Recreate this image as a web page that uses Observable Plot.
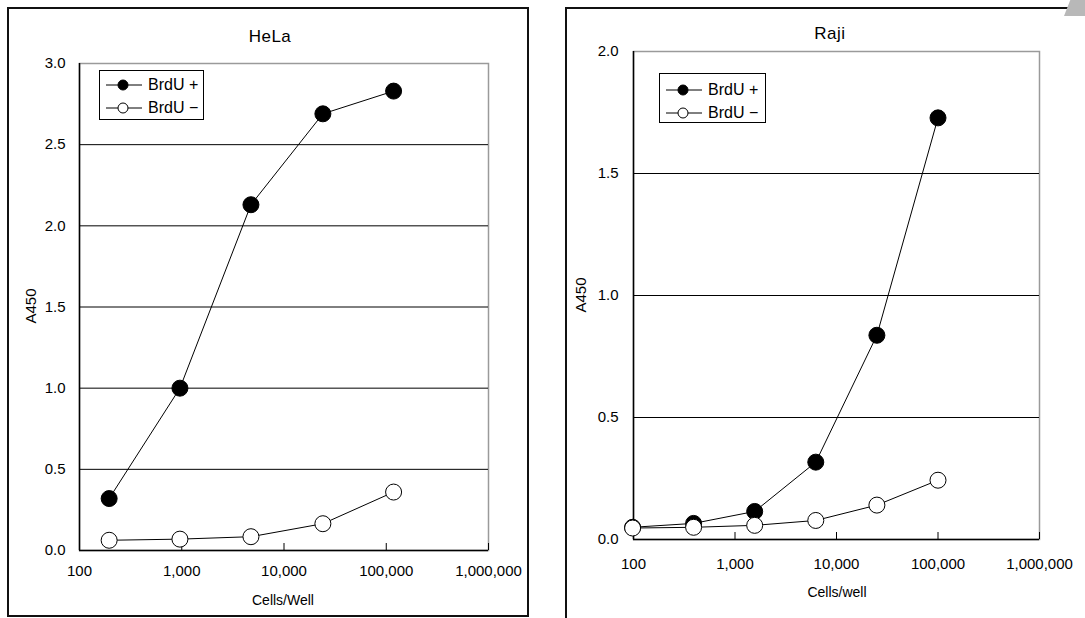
<!DOCTYPE html>
<html><head><meta charset="utf-8">
<script src="https://cdn.jsdelivr.net/npm/d3@7"></script>
<script src="https://cdn.jsdelivr.net/npm/@observablehq/plot@0.6"></script>
<style>
body{margin:0;background:#fff;font-family:"Liberation Sans",Arial,sans-serif;}
#root{position:relative;width:1085px;height:618px;overflow:hidden;background:#fff;}
.frame{position:absolute;border:2px solid #111;box-sizing:border-box;}
.txt{position:absolute;color:#000;white-space:nowrap;line-height:1;}
.legend{position:absolute;border:1px solid #000;background:#fff;box-sizing:border-box;}
.legend .row{position:absolute;left:0;height:18px;display:flex;align-items:center;}
.legend svg{display:block;}
.pl{position:absolute;top:0;}
.corner{position:absolute;left:1064px;top:0;width:21px;height:16px;background:#b8b8b8;clip-path:polygon(30% 0,100% 0,100% 100%,0 100%);}
</style></head><body><div id="root"></div>
<script>
// ---- data ----
const seriesNames = ["BrdU +", "BrdU −"];
const xTicks = [100, 1000, 10000, 100000, 1000000];

const helaTitle = "HeLa";
const helaXLabel = "Cells/Well";
const helaCells = [195, 960, 4750, 24000, 118000];
const helaBrdUPlus = [0.32, 1.00, 2.13, 2.69, 2.83];
const helaBrdUMinus = [0.063, 0.07, 0.085, 0.165, 0.36];
const helaYTicks = [0, 0.5, 1.0, 1.5, 2.0, 2.5, 3.0];

const rajiTitle = "Raji";
const rajiXLabel = "Cells/well";
const rajiCells = [98, 391, 1563, 6250, 25000, 100000];
const rajiBrdUPlus = [0.05, 0.066, 0.115, 0.317, 0.837, 1.728];
const rajiBrdUMinus = [0.047, 0.05, 0.058, 0.078, 0.141, 0.243];
const rajiYTicks = [0, 0.5, 1.0, 1.5, 2.0];

const yLabel = "A450";

const root = document.getElementById("root");

function add(tag, cls, style, text) {
  const el = document.createElement(tag);
  if (cls) el.className = cls;
  Object.assign(el.style, style);
  if (text != null) el.textContent = text;
  root.appendChild(el);
  return el;
}

function panel(cfg) {
  const plus = cfg.cells.map((c, i) => ({cells: c, a: cfg.plus[i]}));
  const minus = cfg.cells.map((c, i) => ({cells: c, a: cfg.minus[i]}));
  const yMax = cfg.yTicks[cfg.yTicks.length - 1];
  const p = Plot.plot({
    width: cfg.width, height: cfg.height,
    marginLeft: cfg.ml, marginRight: cfg.mr, marginTop: cfg.mt, marginBottom: cfg.mb,
    style: {background: "none", fontFamily: "Liberation Sans, Arial, sans-serif", fontSize: "15px", color: "#000", overflow: "visible"},
    x: {type: "log", domain: [100, 1e6]},
    y: {domain: [0, yMax]},
    marks: [
      Plot.frame({stroke: "#9a9a9a", strokeWidth: 1.5}),
      Plot.ruleY(cfg.yTicks.filter(t => t > 0 && t < yMax), {stroke: "#000", strokeWidth: 1}),
      Plot.ruleY([0], {stroke: "#000", strokeWidth: 1.5}),
      Plot.ruleX([100], {stroke: "#000", strokeWidth: 1.5}),
      Plot.axisX({ticks: xTicks, tickSize: 7, dy: -7, tickFormat: () => "", label: null, stroke: "#000"}),
      Plot.axisX({ticks: xTicks, tickSize: 0, tickPadding: cfg.xPad, tickFormat: d3.format(","), label: null}),
      Plot.axisY({ticks: cfg.yTicks, tickSize: 0, tickPadding: cfg.yPad, tickFormat: d3.format(".1f"), label: null}),
      Plot.line(plus, {x: "cells", y: "a", stroke: "#000", strokeWidth: 1}),
      Plot.dot(plus, {x: "cells", y: "a", r: 8, fill: "#000", stroke: "#000", strokeWidth: 1}),
      Plot.line(minus, {x: "cells", y: "a", stroke: "#000", strokeWidth: 1}),
      Plot.dot(minus, {x: "cells", y: "a", r: 8, fill: "#fff", stroke: "#000", strokeWidth: 1})
    ]
  });
  p.classList.add("pl");
  p.style.left = cfg.left + "px";
  p.style.maxWidth = "none";
  return p;
}

function legend(x, y, w, h, rows) {
  const box = add("div", "legend", {left: x + "px", top: y + "px", width: w + "px", height: h + "px"});
  seriesNames.forEach((name, i) => {
    const row = document.createElement("div");
    row.className = "row";
    row.style.top = (rows[i] - 9) + "px";
    const ns = "http://www.w3.org/2000/svg";
    const svg = document.createElementNS(ns, "svg");
    svg.setAttribute("width", 46); svg.setAttribute("height", 18);
    const ln = document.createElementNS(ns, "line");
    ln.setAttribute("x1", 6); ln.setAttribute("x2", 42); ln.setAttribute("y1", 9); ln.setAttribute("y2", 9);
    ln.setAttribute("stroke", "#000"); ln.setAttribute("stroke-width", 1);
    const c = document.createElementNS(ns, "circle");
    c.setAttribute("cx", 23); c.setAttribute("cy", 9); c.setAttribute("r", 5);
    c.setAttribute("fill", i === 0 ? "#000" : "#fff"); c.setAttribute("stroke", "#000");
    svg.appendChild(ln); svg.appendChild(c);
    const t = document.createElement("span");
    t.textContent = name;
    t.style.marginLeft = "2px";
    t.style.fontSize = "16px";
    row.appendChild(svg); row.appendChild(t);
    box.appendChild(row);
  });
}

// frames
add("div", "frame", {left: "7px", top: "7px", width: "522px", height: "610px"});
add("div", "frame", {left: "565px", top: "7px", width: "540px", height: "630px"});
add("div", "corner", {});

// left panel
root.appendChild(panel({left: 0, width: 545, height: 618, ml: 79, mr: 57, mt: 63, mb: 68, xPad: 15, yPad: 14,
  cells: helaCells, plus: helaBrdUPlus, minus: helaBrdUMinus, yTicks: helaYTicks}));
// right panel
root.appendChild(panel({left: 545, width: 540, height: 618, ml: 88, mr: 46, mt: 51, mb: 79, xPad: 19, yPad: 15,
  cells: rajiCells, plus: rajiBrdUPlus, minus: rajiBrdUMinus, yTicks: rajiYTicks}));

// titles and axis labels
add("div", "txt", {left: "170px", width: "200px", textAlign: "center", top: "28px", fontSize: "17px", letterSpacing: "0.5px"}, helaTitle);
add("div", "txt", {left: "730px", width: "200px", textAlign: "center", top: "25px", fontSize: "17px", letterSpacing: "0.5px"}, rajiTitle);
add("div", "txt", {left: "183px", width: "200px", textAlign: "center", top: "593px", fontSize: "14px"}, helaXLabel);
add("div", "txt", {left: "737px", width: "200px", textAlign: "center", top: "585px", fontSize: "14px"}, rajiXLabel);
add("div", "txt", {left: "30px", top: "306px", fontSize: "15px", transform: "translate(-50%,-50%) rotate(-90deg)"}, yLabel);
add("div", "txt", {left: "580px", top: "295px", fontSize: "15px", transform: "translate(-50%,-50%) rotate(-90deg)"}, yLabel);

// legends
legend(99, 70, 105, 50, [14, 37]);
legend(659, 73, 107, 50, [16, 39]);
</script></body></html>
